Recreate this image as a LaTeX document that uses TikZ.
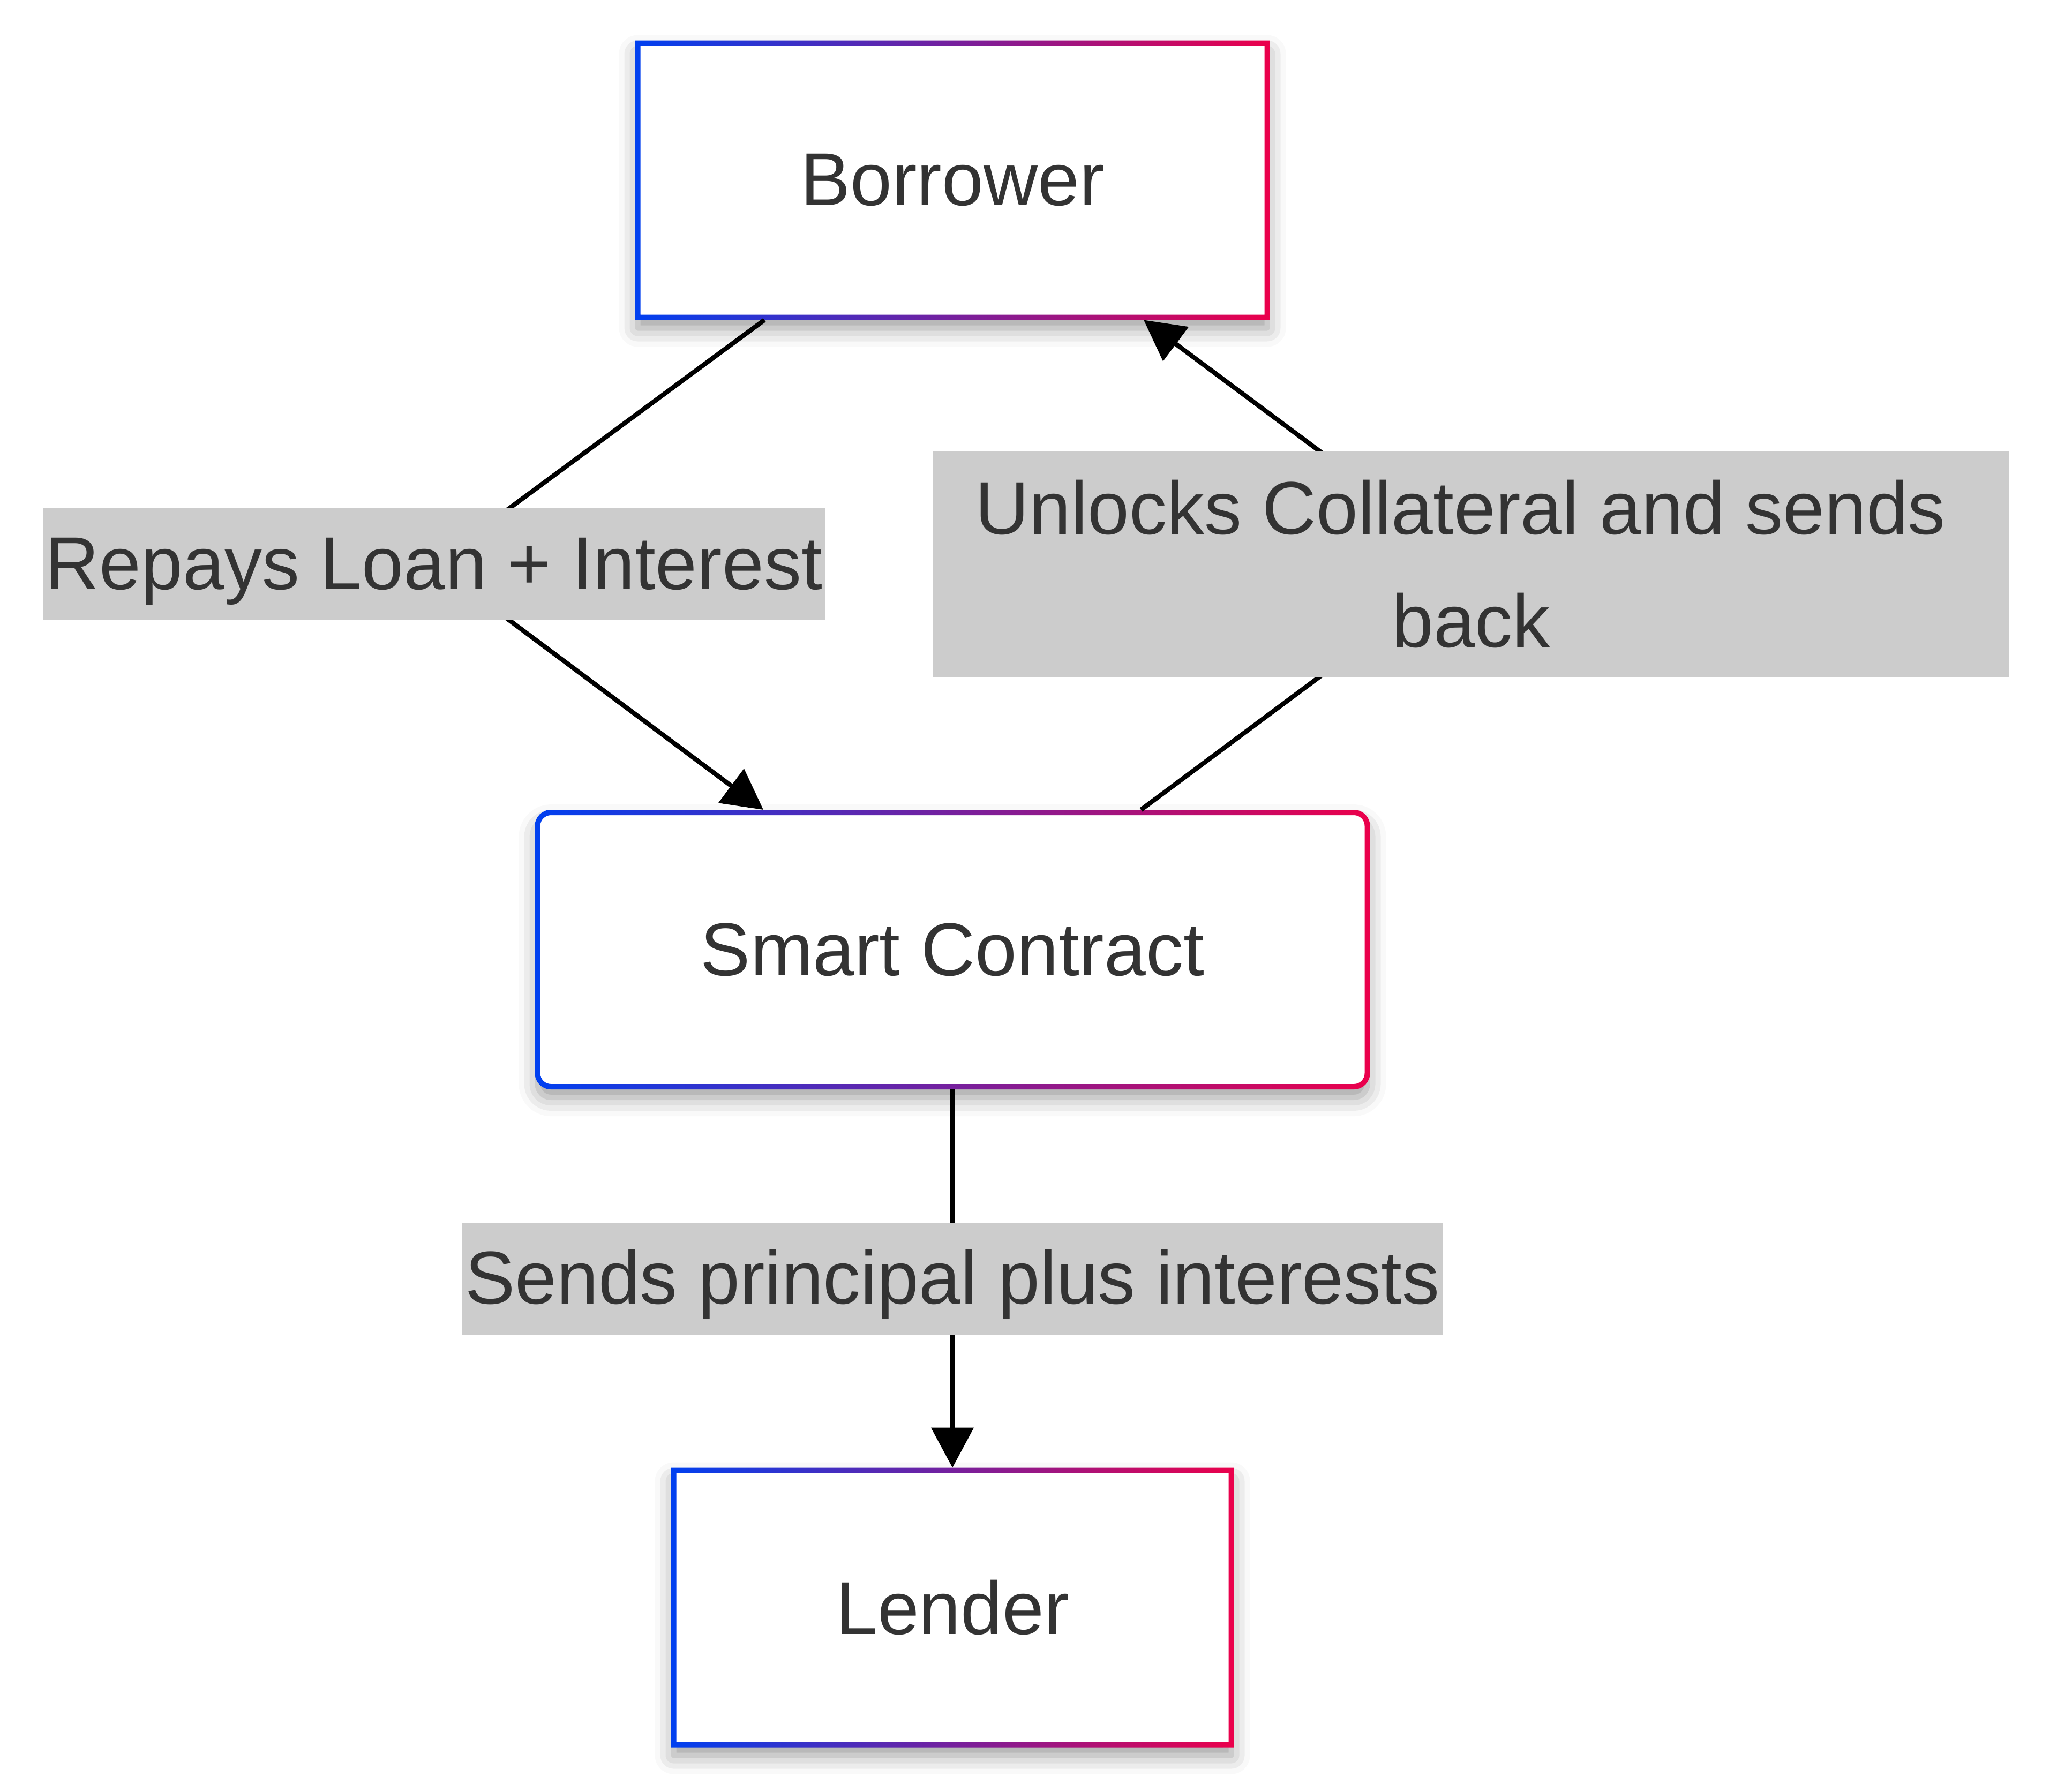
\documentclass[tikz,border=0pt]{standalone}
\usepackage{fontspec}
\setmainfont{Liberation Sans}
\usetikzlibrary{arrows.meta, shadows.blur}
\definecolor{textgrey}{HTML}{333333}
\definecolor{labelgrey}{HTML}{CCCCCC}
\definecolor{frameblue}{RGB}{0,64,240}
\definecolor{framered}{RGB}{235,0,75}
\tikzset{
	box/.style={fill=white, text=textgrey, outer sep=0.05cm, minimum height=5.12cm,
		blur shadow={shadow xshift=0cm, shadow yshift=-0.2cm, shadow blur radius=0.35cm, shadow opacity=40}},
	edgelabel/.style={fill=labelgrey, text=textgrey, inner xsep=0.05cm, inner ysep=0cm},
	oneline/.style={text height=1.52cm, text depth=0.57cm},
	flow/.style={line width=0.085cm, -{Triangle[length=0.75cm, width=0.78cm]}},
}
\begin{document}
\begin{tikzpicture}[font=\fontsize{39.8pt}{59.8pt}\selectfont]
	\useasboundingbox (0,0) rectangle (38.4,-33.45);
	%\draw[help lines] (0,0) grid (38,-33);
	
	\node [box, minimum width=11.75cm] (borrower) at (17.78, -3.365) {Borrower};
	\node [box, minimum width=15.49cm, rounded corners=0.25cm] (contract) at (17.78, -17.73) {Smart Contract};
	\node [box, minimum width=10.41cm] (lender) at (17.78, -30.015) {Lender};
	
	% gradient frames
	\foreach \n/\ro/\ri in {borrower/0/0, contract/0.3/0.2, lender/0/0}
		\shade [left color=frameblue, right color=framered, even odd rule, rounded corners=\ro cm]
			(\n.south west) rectangle (\n.north east)
			[rounded corners=\ri cm] ([shift={(0.1,0.1)}]\n.south west) rectangle ([shift={(-0.1,-0.1)}]\n.north east);
	
	\coordinate (repaysbend) at (8.1, -10.53);
	\coordinate (unlocksbend) at (27.46, -10.53);
	
	\draw [flow] ([xshift=-3.51cm]borrower.south) -- (repaysbend)
		node [edgelabel, oneline] (repays) {Repays Loan + Interest}
		-- ([xshift=-3.53cm]contract.north);
	\draw [flow] ([xshift=3.52cm]contract.north) -- (unlocksbend)
		node [edgelabel, inner xsep=0cm, minimum width=20.08cm, align=center, minimum height=4.23cm] (unlocks)
		{Unlocks Collateral and sends\rule{0.39cm}{0pt}\\back}
		-- ([xshift=3.57cm]borrower.south);
	\draw [flow] (contract.south) -- node [edgelabel, oneline] (sends) {Sends principal plus interests} (lender.north);
\end{tikzpicture}
\end{document}
